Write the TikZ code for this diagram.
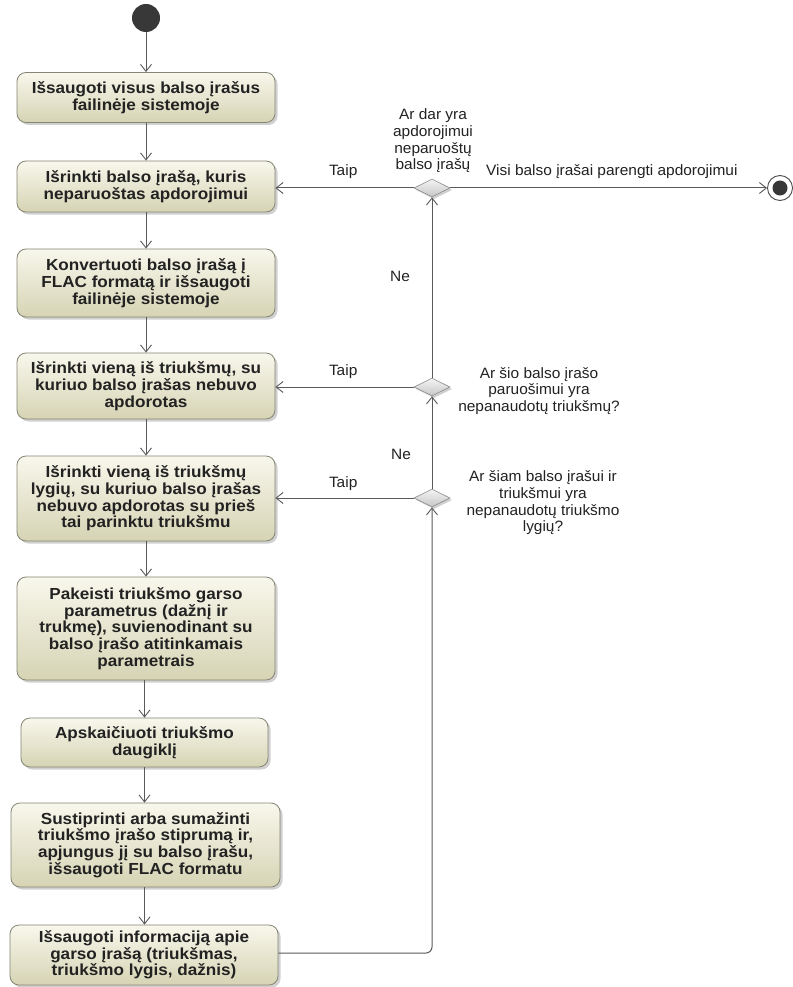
\documentclass[tikz,border=0pt]{standalone}
\usepackage{fontspec}
\setmainfont{Liberation Sans}
\newfontfamily\boxfont[FakeStretch=1.07]{Liberation Sans}
\newfontfamily\notefont[FakeStretch=1.03]{Liberation Sans}
\usetikzlibrary{arrows.meta,shapes.geometric,shadows}

\definecolor{boxtop}{HTML}{F8F7EC}
\definecolor{boxbot}{HTML}{D6D4B4}
\definecolor{boxline}{HTML}{858574}
\definecolor{flow}{HTML}{5A5A5A}
\definecolor{dectop}{HTML}{F4F4F4}
\definecolor{decbot}{HTML}{C6C6C6}
\definecolor{txt}{HTML}{222222}

\begin{document}
\begin{tikzpicture}[x=1pt,y=-1pt,
  act/.style={rectangle, rounded corners=9pt, draw=boxline, line width=0.8pt,
    top color=boxtop, bottom color=boxbot, text=txt, align=center, inner sep=0pt,
    font=\boxfont\fontsize{16}{16.7}\selectfont\bfseries,
    drop shadow={shadow xshift=2.5pt, shadow yshift=-2.5pt, opacity=0.3, fill=black!60}},
  dec/.style={diamond, draw=black!45, line width=0.6pt, top color=dectop, bottom color=decbot,
    minimum width=36pt, minimum height=18pt, inner sep=0pt, aspect=2,
    drop shadow={shadow xshift=2pt, shadow yshift=-2pt, opacity=0.3, fill=black!60}},
  lbl/.style={font=\notefont\fontsize{15}{16.7}\selectfont, text=txt, align=center, inner sep=0pt},
  flowline/.style={draw=flow, line width=1pt},
  arr/.style={flowline, -{Straight Barb[length=7pt,width=11pt,line width=0.9pt]}}
]
\useasboundingbox[fill=white] (0,0) rectangle (792,987);

% start and end
\node[circle, fill=black!78, minimum size=28pt, inner sep=0pt] (start) at (146,18) {};
\node[circle, draw=black!70, line width=0.9pt, fill=white, minimum size=25pt, inner sep=0pt] (end) at (780,188) {};
\node[circle, fill=black!78, minimum size=15pt, inner sep=0pt] (endin) at (end) {};

% activities
\node[act, minimum width=258pt, minimum height=50pt] (b1) at (146,97.5)
  {Išsaugoti visus balso įrašus\\failinėje sistemoje};
\node[act, minimum width=258pt, minimum height=51pt] (b2) at (146,186.5)
  {Išrinkti balso įrašą, kuris\\neparuoštas apdorojimui};
\node[act, minimum width=258pt, minimum height=68pt] (b3) at (146,283)
  {Konvertuoti balso įrašą į\\FLAC formatą ir išsaugoti\\failinėje sistemoje};
\node[act, minimum width=258pt, minimum height=66pt] (b4) at (146,386)
  {Išrinkti vieną iš triukšmų, su\\kuriuo balso įrašas nebuvo\\apdorotas};
\node[act, minimum width=258pt, minimum height=85pt] (b5) at (146,498.5)
  {Išrinkti vieną iš triukšmų\\lygių, su kuriuo balso įrašas\\nebuvo apdorotas su prieš\\tai parinktu triukšmu};
\node[act, minimum width=258pt, minimum height=103pt] (b6) at (146,628.5)
  {Pakeisti triukšmo garso\\parametrus (dažnį ir\\trukmę), suvienodinant su\\balso įrašo atitinkamais\\parametrais};
\node[act, minimum width=247pt, minimum height=49pt] (b7) at (144.5,742.5)
  {Apskaičiuoti triukšmo\\daugiklį};
\node[act, minimum width=269pt, minimum height=84pt] (b8) at (145.5,845)
  {Sustiprinti arba sumažinti\\triukšmo įrašo stiprumą ir,\\apjungus jį su balso įrašu,\\išsaugoti FLAC formatu};
\node[act, minimum width=268pt, minimum height=60pt] (b9) at (144,955)
  {Išsaugoti informaciją apie\\garso įrašą (triukšmas,\\triukšmo lygis, dažnis)};

% decisions
\node[dec] (d1) at (432,188) {};
\node[dec] (d2) at (432,387) {};
\node[dec] (d3) at (432,498) {};

\node[lbl] (q1) at (433,141) {Ar dar yra\\apdorojimui\\neparuoštų\\balso įrašų};
\node[lbl] (q2) at (539,391) {Ar šio balso įrašo\\paruošimui yra\\nepanaudotų triukšmų?};
\node[lbl] (q3) at (543,503) {Ar šiam balso įrašui ir\\triukšmui yra\\nepanaudotų triukšmo\\lygių?};

% main sequence
\draw[arr] (start) -- (b1);
\draw[arr] (b1) -- (b2);
\draw[arr] (b2) -- (b3);
\draw[arr] (b3) -- (b4);
\draw[arr] (b4) -- (b5);
\draw[arr] (b5) -- (b6);
\draw[arr] (b6.south -| b7.north) -- (b7);
\draw[arr] (b7) -- (b8.north -| b7.south);
\draw[arr] (b8.south -| b7.south) -- (b9.north -| b7.south);

% loop back through the decisions
\draw[arr, rounded corners=6pt] (b9.east |- 0,953) -- (432,953) -- (d3.south);
\draw[arr] (d3.north) -- node[lbl, pos=0.37, xshift=-31pt] (ne2) {Ne} (d2.south);
\draw[arr] (d2.north) -- node[lbl, pos=0.56, xshift=-32pt] (ne1) {Ne} (d1.south);

% yes branches
\draw[arr] (d1.west) -- node[lbl, pos=0.51, yshift=16pt] (t1) {Taip} (d1.west -| b2.east);
\draw[arr] (d2.west) -- node[lbl, pos=0.51, yshift=15pt] (t2) {Taip} (d2.west -| b4.east);
\draw[arr] (d3.west) -- node[lbl, pos=0.51, yshift=14pt] (t3) {Taip} (d3.west -| b5.east);

% all done
\draw[arr] (d1.east) -- node[lbl, pos=0.51, yshift=16pt] (done) {Visi balso įrašai parengti apdorojimui} (end);
\end{tikzpicture}
\end{document}
